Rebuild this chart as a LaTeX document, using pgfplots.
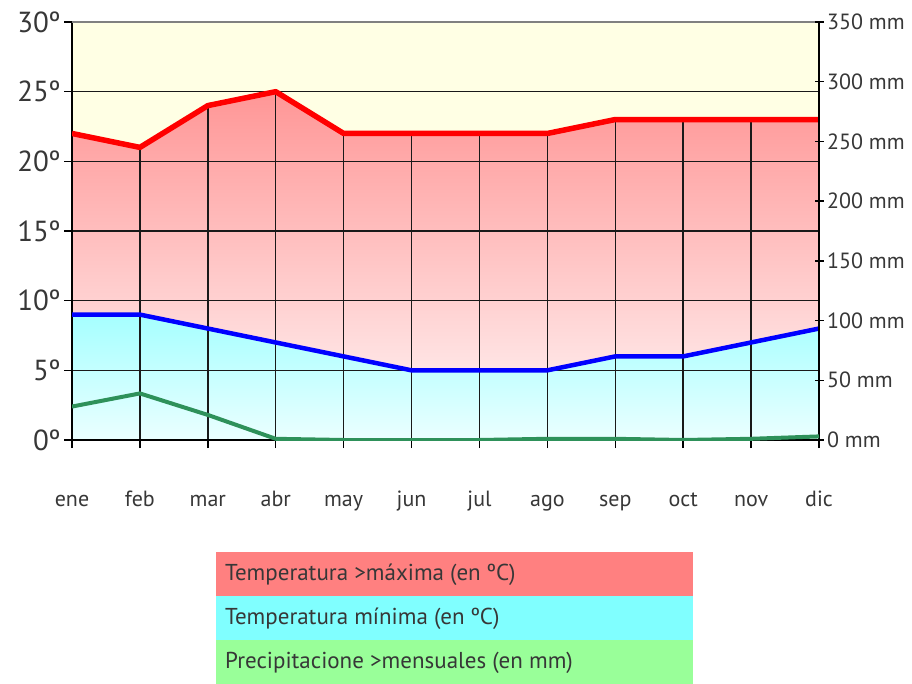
\documentclass[border=0pt]{standalone}
\usepackage{pgfplots}
\pgfplotsset{compat=1.18}
\usepackage{fontspec}
\setmainfont{PT Sans}
\definecolor{bgyellow}{RGB}{255,255,228}
\definecolor{pinktop}{RGB}{255,150,150}
\definecolor{pinkbot}{RGB}{255,248,248}
\definecolor{cyantop}{RGB}{165,255,255}
\definecolor{cyanbot}{RGB}{235,255,255}
\definecolor{tmaxc}{RGB}{255,0,0}
\definecolor{tminc}{RGB}{0,0,255}
\definecolor{precc}{RGB}{46,145,90}
\definecolor{legred}{RGB}{255,128,128}
\definecolor{legcyan}{RGB}{128,255,255}
\definecolor{leggreen}{RGB}{153,255,153}
\definecolor{txt}{RGB}{55,55,55}
\begin{document}
\begin{tikzpicture}
\path[use as bounding box] (0pt,0pt) rectangle (912pt,-684pt);
\pgfplotsset{base/.style={at={(72pt,-440pt)}, anchor=south west, scale only axis,
  width=747pt, height=418pt, xmin=0, xmax=11, ymin=0, ymax=30,
  /pgf/number format/assume math mode=true}}
% axis 1: fills, grid, left axis and month labels
\begin{axis}[base,
  axis background/.style={fill=bgyellow},
  axis on top,
  axis x line*=bottom, axis y line*=left,
  axis line style={black, line width=1.4pt},
  xtick={0,...,11},
  xticklabels={ene,feb,mar,abr,may,jun,jul,ago,sep,oct,nov,dic},
  xticklabel style={font=\fontsize{22}{22}\selectfont, text=txt, anchor=base, yshift=-58pt},
  ytick={0,5,...,25}, extra y ticks={30}, extra y tick labels={30º},
  extra y tick style={grid=none},
  yticklabel={\pgfmathprintnumber{\tick}º},
  yticklabel style={font=\fontsize{29}{29}\selectfont, text=txt},
  ymajorgrids, grid style={black!90, line width=1.4pt},
  tick align=outside, major tick length=8pt,
  tick style={black, line width=1.4pt},
]
\addplot[draw=none, top color=pinktop, bottom color=pinkbot] coordinates
  {(0,22)(1,21)(2,24)(3,25)(4,22)(5,22)(6,22)(7,22)(8,23)(9,23)(10,23)(11,23)} \closedcycle;
\addplot[draw=none, top color=cyantop, bottom color=cyanbot] coordinates
  {(0,9)(1,9)(2,8)(3,7)(4,6)(5,5)(6,5)(7,5)(8,6)(9,6)(10,7)(11,8)} \closedcycle;
\addplot[ycomb, black!90, line width=1.4pt] coordinates
  {(0,22)(1,21)(2,24)(3,25)(4,22)(5,22)(6,22)(7,22)(8,23)(9,23)(10,23)(11,23)};
\end{axis}
% axis 2: temperature curves, top line
\begin{axis}[base,
  axis x line*=top, axis y line=none,
  x axis line style={gray, line width=1.4pt},
  xtick=\empty, ytick=\empty,
]
\addplot[tmaxc, line width=5.5pt, line join=round] coordinates
  {(0,22)(1,21)(2,24)(3,25)(4,22)(5,22)(6,22)(7,22)(8,23)(9,23)(10,23)(11,23)};
\addplot[tminc, line width=4.5pt, line join=round] coordinates
  {(0,9)(1,9)(2,8)(3,7)(4,6)(5,5)(6,5)(7,5)(8,6)(9,6)(10,7)(11,8)};
\end{axis}
% axis 3: precipitation
\begin{axis}[base, ymax=350,
  axis x line=none, axis y line*=right,
  axis line style={black, line width=1.4pt},
  xtick=\empty, ytick={0,50,...,350},
  yticklabel={\pgfmathprintnumber{\tick} mm},
  yticklabel style={font=\fontsize{22}{22}\selectfont, text=txt},
  tick align=center, major tick length=9pt,
  tick style={black, line width=1.4pt},
]
\addplot[precc, line width=4pt, line join=round] coordinates
  {(0,28)(1,39)(2,21)(3,1)(4,0)(5,0)(6,0)(7,1)(8,1)(9,0)(10,1)(11,3)};
\end{axis}
% legend
\fill[legred] (216pt,-552pt) rectangle (693pt,-596pt);
\fill[legcyan] (216pt,-596pt) rectangle (693pt,-640pt);
\fill[leggreen] (216pt,-640pt) rectangle (693pt,-684pt);
\node[anchor=base west, inner sep=0pt, text=txt, font=\fontsize{23}{23}\selectfont] at (225pt,-580pt) {Temperatura >máxima (en ºC)};
\node[anchor=base west, inner sep=0pt, text=txt, font=\fontsize{23}{23}\selectfont] at (225pt,-624pt) {Temperatura mínima (en ºC)};
\node[anchor=base west, inner sep=0pt, text=txt, font=\fontsize{23}{23}\selectfont] at (225pt,-668pt) {Precipitacione >mensuales (en mm)};
\end{tikzpicture}
\end{document}
